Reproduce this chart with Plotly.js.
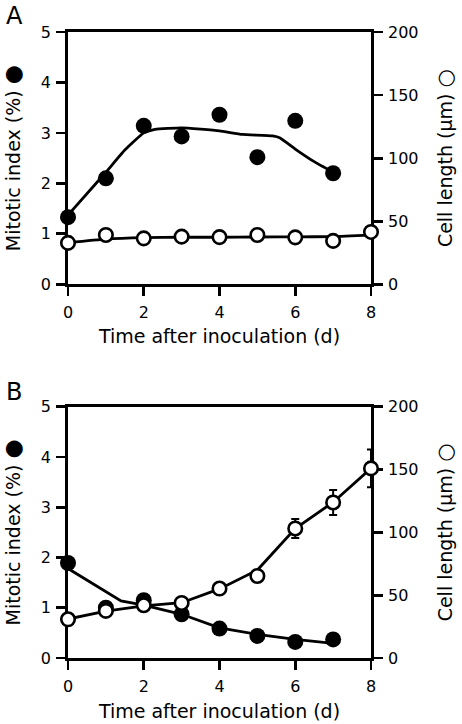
<!DOCTYPE html>
<html><head><meta charset="utf-8">
<script src="https://cdn.plot.ly/plotly-3.0.1.min.js"></script>
<style>html,body{margin:0;padding:0;background:#fff}#chart{width:462px;height:724px}</style>
</head><body><div id="chart"></div><script>
// ---- Data ----
const xTicks = [0, 2, 4, 6, 8];
const leftTicks = [0, 1, 2, 3, 4, 5];
const rightTicks = [0, 50, 100, 150, 200];

// Panel A
const daysMitoticA = [0, 1, 2, 3, 4, 5, 6, 7];
const mitoticA = [1.33, 2.10, 3.14, 2.93, 3.36, 2.52, 3.24, 2.20];
const daysCellA = [0, 1, 2, 3, 4, 5, 6, 7, 8];
const cellA = [32.8, 39.1, 36.4, 37.8, 37.4, 39.1, 37.2, 34.4, 41.5];
const fitMitoticAX = [0, 1, 1.5, 2, 2.3, 3, 4, 4.6, 5.4, 5.6, 6, 6.5, 7];
const fitMitoticAY = [1.37, 2.22, 2.66, 3.0, 3.07, 3.10, 3.04, 2.97, 2.94, 2.90, 2.68, 2.43, 2.22];
const fitCellAX = [0, 1, 2, 3, 4, 5, 6, 7, 8];
const fitCellAY = [33, 35.8, 37, 37.3, 37.3, 37.5, 37.6, 37.8, 39];

// Panel B
const daysMitoticB = [0, 1, 2, 3, 4, 5, 6, 7];
const mitoticB = [1.89, 1.0, 1.15, 0.87, 0.585, 0.44, 0.32, 0.37];
const daysCellB = [0, 1, 2, 3, 4, 5, 6, 7, 8];
const cellB = [30.8, 37.5, 42.0, 43.8, 55.3, 65.3, 103.1, 123.8, 150.9];
const cellBErr = [null, null, null, null, null, null, 7.5, 10, 15];
const fitMitoticBX = [0, 1.4, 2, 3, 4, 5, 6, 7];
const fitMitoticBY = [1.78, 1.135, 1.05, 0.87, 0.6, 0.47, 0.37, 0.29];
const fitCellBX = [0, 1, 2, 3, 4, 5, 6, 7, 8];
const fitCellBY = [31, 37.3, 41.5, 44, 55, 70, 103, 124, 151];

// ---- Styles ----
const FONT = 'DejaVu Sans, Liberation Sans, Arial, sans-serif';
const LW = 2.8;
const lineStyle = {color: '#000', width: LW};
const filledMarker = {symbol: 'circle', size: 16, color: '#000', line: {width: 0}};
const openMarker = {symbol: 'circle', size: 13.5, color: '#fff', line: {color: '#000', width: 2.6}};

const traces = [
  // Panel A
  {x: fitMitoticAX, y: fitMitoticAY, xaxis: 'x', yaxis: 'y', mode: 'lines',
   line: Object.assign({shape: 'spline', smoothing: 0.4}, lineStyle), cliponaxis: false},
  {x: daysMitoticA, y: mitoticA, xaxis: 'x', yaxis: 'y', mode: 'markers', marker: filledMarker, cliponaxis: false},
  {x: fitCellAX, y: fitCellAY, xaxis: 'x', yaxis: 'y2', mode: 'lines',
   line: Object.assign({shape: 'spline', smoothing: 0.5}, lineStyle), cliponaxis: false},
  {x: daysCellA, y: cellA, xaxis: 'x', yaxis: 'y2', mode: 'markers', marker: openMarker, cliponaxis: false},
  // Panel B
  {x: fitMitoticBX, y: fitMitoticBY, xaxis: 'x2', yaxis: 'y3', mode: 'lines', line: lineStyle, cliponaxis: false},
  {x: daysMitoticB, y: mitoticB, xaxis: 'x2', yaxis: 'y3', mode: 'markers', marker: filledMarker, cliponaxis: false},
  {x: fitCellBX, y: fitCellBY, xaxis: 'x2', yaxis: 'y4', mode: 'lines', line: lineStyle, cliponaxis: false},
  {x: daysCellB, y: cellB, xaxis: 'x2', yaxis: 'y4', mode: 'markers', marker: openMarker, cliponaxis: false,
   error_y: {type: 'data', array: cellBErr, visible: true, color: '#000', thickness: 2, width: 4}}
];

const axBase = {
  showgrid: false, zeroline: false, showline: true, linecolor: '#000', linewidth: LW,
  ticks: 'outside', ticklen: 9, tickwidth: LW, tickcolor: '#000', ticklabelstandoff: 2,
  tickfont: {family: FONT, size: 16, color: '#000'}, layer: 'below traces', fixedrange: true
};
const titleFont = {family: FONT, size: 19, color: '#000'};
const xTitle = 'Time after inoculation (d)';
const leftTitle = 'Mitotic index (%) <span style="font-size:22px">●</span>';
const rightTitle = 'Cell length (μm) <span style="font-size:21px;font-weight:bold">○</span>';

const domA = [0.597, 1];
const domB = [0, 0.4014];

function xAx(anchor, standoff) {
  return Object.assign({}, axBase, {domain: [0, 1], anchor: anchor, range: [0, 8], tickvals: xTicks,
    mirror: true, ticklabelstandoff: 3, title: {text: xTitle, font: titleFont, standoff: standoff}});
}
function leftAx(anchor, dom) {
  return Object.assign({}, axBase, {domain: dom, anchor: anchor, range: [0, 5], tickvals: leftTicks,
    title: {text: leftTitle, font: titleFont, standoff: 17}});
}
function rightAx(anchor, over) {
  return Object.assign({}, axBase, {overlaying: over, side: 'right', anchor: anchor, range: [0, 200],
    tickvals: rightTicks, title: {text: rightTitle, font: titleFont, standoff: 22}});
}

const layout = {
  width: 462, height: 724,
  margin: {l: 68, r: 91, t: 32, b: 66},
  paper_bgcolor: '#fff', plot_bgcolor: '#fff',
  showlegend: false,
  font: {family: FONT, color: '#000'},
  xaxis: xAx('y', 9),
  yaxis: leftAx('x', domA),
  yaxis2: rightAx('x', 'y'),
  xaxis2: xAx('y3', 10),
  yaxis3: leftAx('x2', domB),
  yaxis4: rightAx('x2', 'y3'),
  annotations: [
    {text: 'A', xref: 'paper', yref: 'paper', x: -0.178, y: 1.0256, xanchor: 'center', yanchor: 'middle',
     showarrow: false, font: {family: FONT, size: 24, color: '#000'}},
    {text: 'B', xref: 'paper', yref: 'paper', x: -0.178, y: 0.425, xanchor: 'center', yanchor: 'middle',
     showarrow: false, font: {family: FONT, size: 24, color: '#000'}}
  ]
};

Plotly.newPlot('chart', traces, layout, {staticPlot: true, displayModeBar: false});
</script></body></html>
